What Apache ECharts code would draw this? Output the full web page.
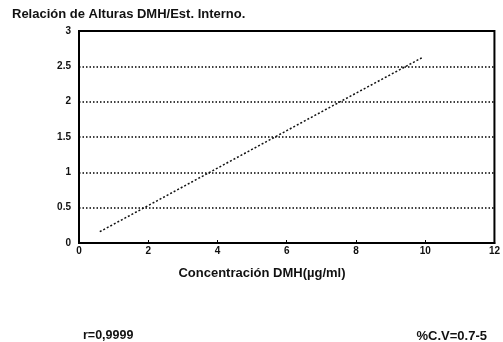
<!DOCTYPE html>
<html><head><meta charset="utf-8">
<script src="https://cdn.jsdelivr.net/npm/echarts@6/dist/echarts.min.js"></script>
<style>html,body{margin:0;padding:0;background:#fff}#c{width:503px;height:342px}</style>
</head><body><div id="c"></div>
<script>
var concentrations = [0.6, 2, 4, 6, 8, 9.9];
var heightRatios = [0.16, 0.53, 1.06, 1.59, 2.12, 2.62];
var xTicks = [0, 2, 4, 6, 8, 10, 12];
var yTicks = [0, 0.5, 1, 1.5, 2, 2.5, 3];
var titleText = 'Relación de Alturas DMH/Est. Interno.';
var xName = 'Concentración DMH(µg/ml)';
var noteLeft = 'r=0,9999';
var noteRight = '%C.V=0.7-5';

var chart = echarts.init(document.getElementById('c'), null, {renderer: 'canvas'});
var font = 'Liberation Sans, Arial, sans-serif';
chart.setOption({
  backgroundColor: '#fff',
  animation: false,
  title: {text: titleText, left: 7, top: 3, textStyle: {fontFamily: font, fontWeight: 'bold', fontSize: 13, color: '#111'}},
  graphic: [
    {type: 'text', x: 262, y: 273, style: {text: xName, font: 'bold 13px ' + font, fill: '#111', textAlign: 'center', textVerticalAlign: 'middle'}},
    {type: 'text', x: 83, y: 336, style: {text: noteLeft, font: 'bold 12.5px ' + font, fill: '#111', textVerticalAlign: 'middle'}},
    {type: 'text', x: 487, y: 336, style: {text: noteRight, font: 'bold 13px ' + font, fill: '#111', textAlign: 'right', textVerticalAlign: 'middle'}}
  ],
  grid: {left: 79, right: 5, top: 31, bottom: 99, show: true, borderColor: '#000', borderWidth: 2, backgroundColor: 'transparent'},
  xAxis: {
    type: 'value', min: xTicks[0], max: xTicks[xTicks.length - 1], interval: 2,
    axisLine: {show: true, lineStyle: {color: '#000', width: 2}},
    axisTick: {show: true, inside: true, length: 3, lineStyle: {color: '#000', width: 1}},
    axisLabel: {margin: 3, fontFamily: font, fontWeight: 'bold', fontSize: 10, color: '#111'},
    splitLine: {show: false}
  },
  yAxis: {
    type: 'value', min: yTicks[0], max: yTicks[yTicks.length - 1], interval: 0.5,
    axisLine: {show: true, lineStyle: {color: '#000', width: 2}},
    axisTick: {show: false},
    axisLabel: {margin: 8, fontFamily: font, fontWeight: 'bold', fontSize: 10, color: '#111'},
    splitLine: {show: true, lineStyle: {color: '#000', type: [1.5, 2], width: 1.5}}
  },
  series: [{
    type: 'line', data: concentrations.map(function (x, i) { return [x, heightRatios[i]]; }),
    showSymbol: false, symbol: 'none',
    lineStyle: {color: '#111', width: 1.5, type: [2, 2]}
  }]
});
</script></body></html>
